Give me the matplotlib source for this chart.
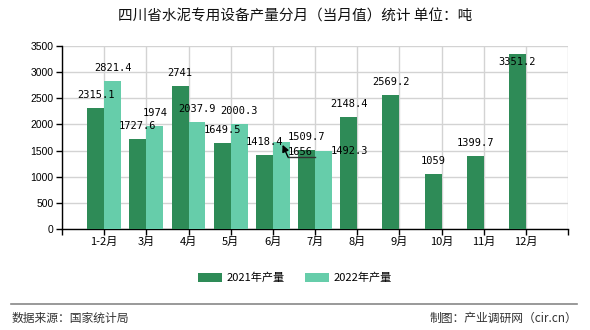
import numpy as np
import matplotlib.pyplot as plt

plt.rcParams['font.family'] = ['Noto Sans CJK SC', 'DejaVu Sans']

months = ['1-2月', '3月', '4月', '5月', '6月', '7月', '8月', '9月', '10月', '11月', '12月']
y2021 = [2315.1, 1727.6, 2741, 1649.5, 1418.4, 1509.7, 2148.4, 2569.2, 1059, 1399.7, 3351.2]
y2022 = [2821.4, 1974, 2037.9, 2000.3, 1656, 1492.3]
lab2021 = ['2315.1', '1727.6', '2741', '1649.5', '1418.4', '1509.7', '2148.4', '2569.2', '1059', '1399.7', '3351.2']
lab2022 = ['2821.4', '1974', '2037.9', '2000.3', '1656', '1492.3']

c21 = '#2e8b57'
c22 = '#66cdaa'

fig = plt.figure(figsize=(5.9, 3.3), dpi=100)
ax = fig.add_axes([62/590, 1-229/330, 506/590, 183/330])

x = np.arange(1, len(months)+1)
w = 0.4
ax.bar(x - w/2, y2021, w, color=c21, label='2021年产量', zorder=3)
x22 = x[:len(y2022)]
ax.bar(x22 + w/2, y2022, w, color=c22, label='2022年产量', zorder=3)

lf = dict(family='DejaVu Sans Mono', fontsize=7.5, ha='center', va='center')
for i, (v, s) in enumerate(zip(y2021, lab2021)):
    dy = -6 if v > 3300 else 9.4
    ax.annotate(s, (x[i] - w/2, v), xytext=(0, dy), textcoords='offset points', zorder=5, **lf)
for i, (v, s) in enumerate(zip(y2022, lab2022)):
    if s == '1656':
        # label pushed aside, with a pointer back to the bar
        ax.text(5.64, 1478, s, zorder=5, **lf)
        ax.plot([6.0, 5.36], [1377, 1377], color='#333333', lw=1, zorder=5)
        ax.annotate('', xy=(5.23, 1610), xytext=(5.36, 1377),
                    arrowprops=dict(arrowstyle='-|>', color='black', lw=1, mutation_scale=10,
                                    shrinkA=0, shrinkB=0), zorder=5)
    elif s == '1492.3':
        ax.annotate(s, (x22[i] + w/2, v), xytext=(19, 0), textcoords='offset points', zorder=5, **lf)
    else:
        ax.annotate(s, (x22[i] + w/2, v), xytext=(0, 9.4), textcoords='offset points', zorder=5, **lf)

ax.set_xlim(0, 12)
ax.set_ylim(0, 3500)
ax.set_xticks(range(0, 13))
ax.set_xticklabels([''] + months + [''], fontsize=8)
ax.set_yticks(range(0, 3501, 500))
ax.set_yticklabels([str(v) for v in range(0, 3501, 500)], family='Liberation Sans', fontsize=7.5)
ax.tick_params(length=4, width=1, color='black', pad=2)
ax.grid(True, color='#d3d3d3', lw=1, zorder=0)
for s in ['top', 'right']:
    ax.spines[s].set_visible(False)
for s in ['left', 'bottom']:
    ax.spines[s].set_color('black')
    ax.spines[s].set_linewidth(1)

fig.text(0.5, 1-17/330, '四川省水泥专用设备产量分月（当月值）统计 单位：吨', ha='center', va='center',
         fontsize=10.5, fontweight='medium', color='#111111')

fig.legend(loc='center', bbox_to_anchor=(0.5, 1-278/330), ncol=2, frameon=False, fontsize=8,
           handlelength=2.2, handleheight=0.9, columnspacing=1.8, handletextpad=0.4)

fig.add_artist(plt.Line2D([11/590, 577/590], [1-303.5/330, 1-303.5/330], color='#888888', lw=1.2))
fig.text(12/590, 1-318/330, '数据来源：国家统计局', ha='left', va='center', fontsize=8.5, color='#333333')
fig.text(577/590, 1-318/330, '制图：产业调研网（cir.cn）', ha='right', va='center', fontsize=8.5, color='#333333')

fig.savefig('out.png', dpi=100)
